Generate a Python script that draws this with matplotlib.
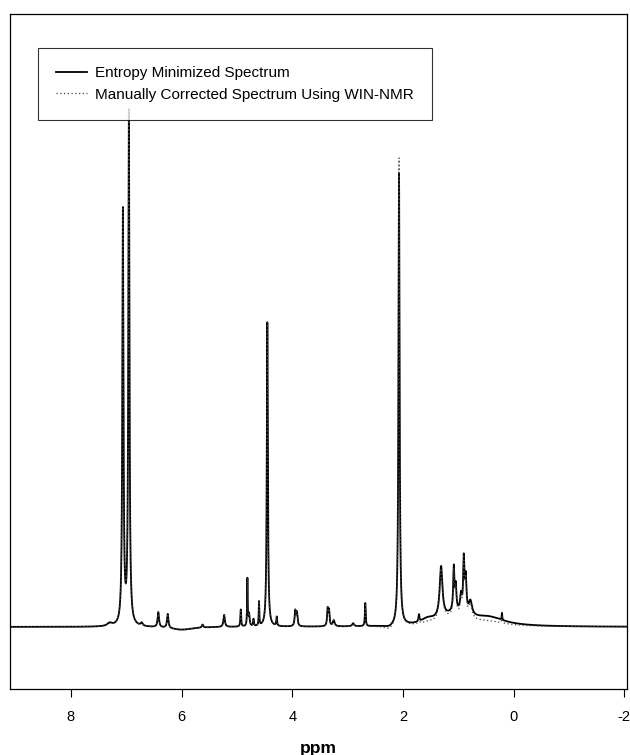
import numpy as np
import matplotlib.pyplot as plt

plt.rcParams['font.family'] = ['Liberation Sans', 'DejaVu Sans']

# Peak table (ppm, intensity, half width in ppm)
peak_ppm = [7.30, 7.06, 6.952, 6.72, 6.42, 6.25, 5.62, 5.23, 4.93, 4.81, 4.78,
            4.70, 4.60, 4.45, 4.28, 3.945, 3.915, 3.36, 3.335, 3.25, 2.90, 2.68,
            2.07, 1.71, 1.31, 1.08, 1.045, 0.95, 0.90, 0.865, 0.78, 0.21]
peak_width = [0.05, 0.012, 0.012, 0.02, 0.015, 0.015, 0.015, 0.015, 0.008, 0.006, 0.012,
              0.008, 0.006, 0.011, 0.008, 0.013, 0.013, 0.011, 0.011, 0.02, 0.02, 0.008,
              0.012, 0.01, 0.03, 0.013, 0.014, 0.018, 0.013, 0.016, 0.035, 0.006]
entropy_height = [3, 413, 512, 3, 15, 14, 3, 12, 17, 47, 12,
                  7, 24, 304, 9, 15, 13, 17, 15, 6, 3, 23,
                  452, 7, 51, 43, 24, 16, 51, 34, 14, 7]
manual_height = [2, 413, 512, 3, 15, 14, 3, 12, 17, 47, 12,
                 7, 24, 304, 9, 15, 13, 17, 15, 6, 3, 23,
                 468, 6, 51, 43, 24, 16, 51, 34, 14, 6]

# broad baseline features (ppm, intensity, half width)
hump_ppm = [6.0, 2.25, 1.55, 1.05, 0.45]
hump_width = [0.25, 0.1, 0.15, 0.3, 0.35]
entropy_hump = [-3, -2, 5, 12, 8]
manual_hump = [-3, -4, 2, 10, 4]

ppm = np.linspace(9.2, -2.1, 24000)


def lorentz_sum(centers, heights, widths):
    y = np.zeros_like(ppm)
    for c, h, w in zip(centers, heights, widths):
        y += h / (1.0 + ((ppm - c) / w) ** 2)
    return y


entropy = lorentz_sum(peak_ppm, entropy_height, peak_width) + \
    lorentz_sum(hump_ppm, entropy_hump, hump_width)
manual = lorentz_sum(peak_ppm, manual_height, peak_width) + \
    lorentz_sum(hump_ppm, manual_hump, hump_width)

fig = plt.figure(figsize=(6.3, 7.55), dpi=100)
ax = fig.add_axes([10 / 630, 1 - 689 / 755, 617 / 630, 675 / 755])

ax.plot(ppm, entropy, color='black', lw=1.3, label='Entropy Minimized Spectrum')
ax.plot(ppm, manual, color='#444444', lw=0.9, ls=(0, (1, 2)),
        label='Manually Corrected Spectrum Using WIN-NMR')

ax.set_xlim(9.1, -2.05)
ax.set_ylim(-62, 612)
ax.set_yticks([])
ax.set_xticks([8, 6, 4, 2, 0, -2])
ax.set_xticklabels(['8', '6', '4', '2', '0', '-2'])
ax.tick_params(axis='x', direction='out', length=6, width=0.8, labelsize=10.5, pad=9)
for s in ax.spines.values():
    s.set_linewidth(0.9)
ax.set_xlabel('ppm', fontsize=12.5, fontweight='bold', labelpad=12)

leg = ax.legend(loc='upper left', bbox_to_anchor=(0.045, 0.95), borderaxespad=0,
                fontsize=11, frameon=True, fancybox=False, borderpad=1.2,
                labelspacing=0.5, handlelength=2.0, handletextpad=0.55)
leg.get_frame().set_edgecolor('black')
leg.get_frame().set_linewidth(0.8)

fig.savefig('out.png', dpi=100)
